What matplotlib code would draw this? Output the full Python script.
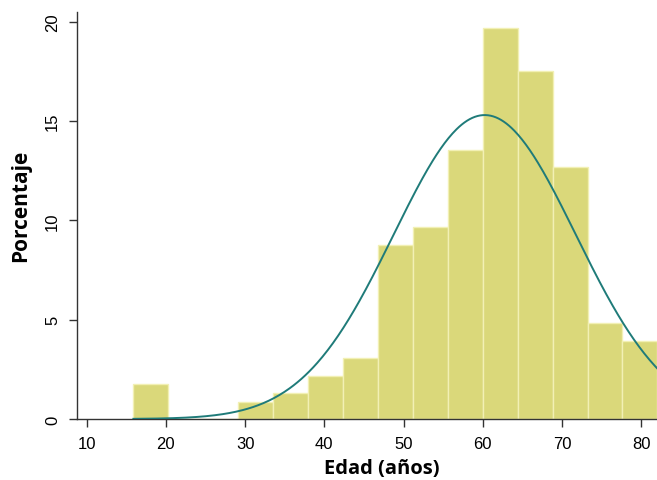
import numpy as np
import matplotlib.pyplot as plt

# histogram of ages (percent per bin)
bin_edges = [15.9, 20.31, 24.72, 29.13, 33.54, 37.95, 42.36, 46.77,
             51.18, 55.59, 60.0, 64.41, 68.82, 73.23, 77.64, 82.05]
percent = [1.76, 0.0, 0.0, 0.87, 1.29, 2.18, 3.05, 8.76,
           9.65, 13.55, 19.69, 17.53, 12.67, 4.82, 3.94]

# fitted normal curve parameters
mean_age = 60.25
sd_age = 11.5

x_ticks = [10, 20, 30, 40, 50, 60, 70, 80]
y_ticks = [0, 5, 10, 15, 20]

bar_color = '#dad87a'
edge_color = '#f2f0b4'
curve_color = '#1f7b79'

fig = plt.figure(figsize=(6.57, 4.81), dpi=100)
ax = fig.add_axes([0.1167, 0.1268, 0.8833, 0.8455])

edges = np.array(bin_edges)
ax.bar(edges[:-1], percent, width=np.diff(edges), align='edge',
       color=bar_color, edgecolor=edge_color, linewidth=1.0, zorder=2)

# normal density scaled to percent per bin
bw = np.mean(np.diff(edges))
xs = np.linspace(edges[0], edges[-1], 400)
ys = 100 * bw * np.exp(-0.5 * ((xs - mean_age) / sd_age) ** 2) / (sd_age * np.sqrt(2 * np.pi))
ax.plot(xs, ys, color=curve_color, linewidth=1.4, zorder=3)

ax.set_xlim(8.74, 82.0)
ax.set_ylim(0, 20.47)
ax.set_xticks(x_ticks)
ax.set_yticks(y_ticks)
ax.set_xticklabels([str(t) for t in x_ticks], fontsize=12, family='Liberation Sans')
ax.set_yticklabels([str(t) for t in y_ticks], fontsize=12, family='Liberation Sans',
                   rotation=90, va='center')

for s in ['top', 'right']:
    ax.spines[s].set_visible(False)
for s in ['left', 'bottom']:
    ax.spines[s].set_color('#333333')
    ax.spines[s].set_linewidth(1.0)
ax.tick_params(axis='both', length=6, width=1.0, color='#333333', pad=6)

ax.set_xlabel('Edad (años)', fontsize=14.5, family='Open Sans', fontweight='bold')
ax.set_ylabel('Porcentaje', fontsize=15, family='Open Sans', fontweight='bold')
# label positions in figure pixels, matched to the reference
ax.xaxis.set_label_coords(382 / 657, 7 / 481, transform=fig.transFigure)
ax.xaxis.label.set_va('baseline')
ax.yaxis.set_label_coords(21 / 657, 1 - 206 / 481, transform=fig.transFigure)
ax.yaxis.label.set_va('center')

fig.savefig('out.png', dpi=100)
